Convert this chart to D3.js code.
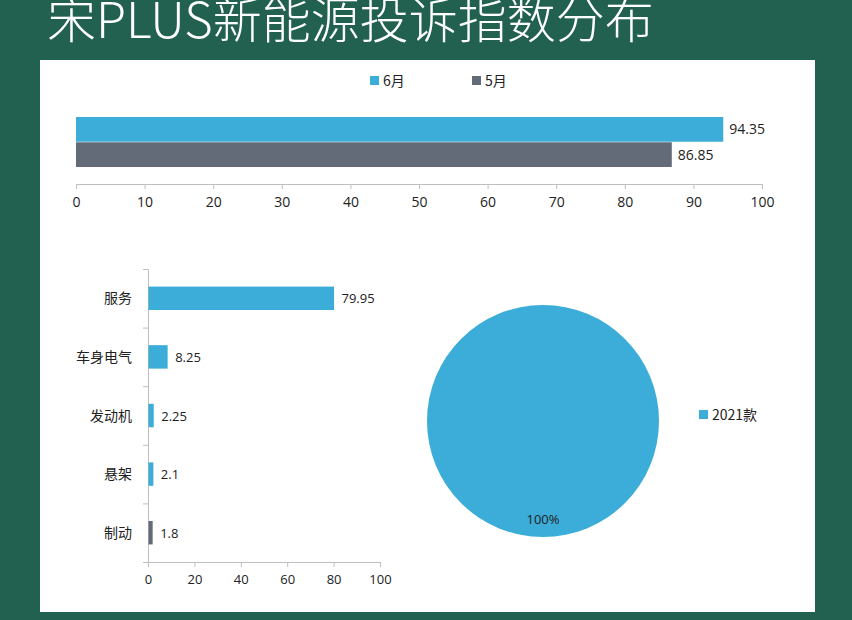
<!DOCTYPE html>
<html lang="zh">
<head>
<meta charset="UTF-8" />
<script src="https://d3js.org/d3.v7.min.js"></script>
<style>
  body { margin: 0; background: #21604f; }
  svg { display: block; font-family: "Noto Sans CJK SC", "Open Sans", sans-serif; }
</style>
</head>
<body>
<svg width="852" height="620"></svg>
<script>
const months = ["6月", "5月"];
const monthValues = [94.35, 86.85];
const categories = ["服务", "车身电气", "发动机", "悬架", "制动"];
const categoryValues = [79.95, 8.25, 2.25, 2.1, 1.8];
const pieLabels = ["2021款"];
const pieValues = [100];

const blue = "#3badd8", gray = "#646b78", axisCol = "#bfbfbf", txt = "#222";
const svg = d3.select("svg");

svg.append("rect").attr("width", 852).attr("height", 620).attr("fill", "#22604f");
svg.append("text").attr("x", 47).attr("y", 38).attr("fill", "#fff")
  .attr("font-size", 49).attr("font-weight", 300).text("宋PLUS新能源投诉指数分布");
svg.append("rect").attr("x", 40).attr("y", 60).attr("width", 775).attr("height", 552).attr("fill", "#fff");

// top chart
const x1 = d3.scaleLinear().domain([0, 100]).range([76, 762]);
const y1 = d3.scaleBand().domain(months).range([117, 167]).paddingInner(0.02);
const col1 = d3.scaleOrdinal().domain(months).range([blue, gray]);
svg.append("g").attr("transform", "translate(0,184)")
  .call(d3.axisBottom(x1).ticks(10).tickSize(5).tickPadding(8))
  .call(g => { g.select(".domain").attr("stroke", axisCol); g.selectAll("line").attr("stroke", axisCol);
    g.selectAll("text").attr("font-size", 14).attr("fill", txt).attr("font-family", "Open Sans"); });
svg.selectAll(".b1").data(months).join("rect")
  .attr("x", x1(0)).attr("y", d => y1(d)).attr("height", y1.bandwidth())
  .attr("width", (d, i) => x1(monthValues[i]) - x1(0)).attr("fill", d => col1(d));
svg.selectAll(".l1").data(months).join("text")
  .attr("x", (d, i) => x1(monthValues[i]) + 6).attr("y", d => y1(d) + y1.bandwidth() / 2 + 5)
  .attr("font-size", 14).attr("fill", txt).attr("font-family", "Open Sans").text((d, i) => monthValues[i]);
const leg = svg.selectAll(".lg").data(months).join("g").attr("transform", (d, i) => `translate(${370 + i * 102},74)`);
leg.append("rect").attr("width", 9).attr("height", 9).attr("y", 2).attr("fill", d => col1(d));
leg.append("text").attr("x", 13).attr("y", 12).attr("font-size", 14).attr("fill", txt).text(d => d);

// bottom bar chart
const x2 = d3.scaleLinear().domain([0, 100]).range([148, 380]);
const y2 = d3.scaleBand().domain(categories).range([269, 562]).paddingInner(0.6).paddingOuter(0.3);
svg.append("g").attr("transform", "translate(0,562)")
  .call(d3.axisBottom(x2).ticks(5).tickSize(5).tickPadding(8))
  .call(g => { g.select(".domain").attr("stroke", axisCol); g.selectAll("line").attr("stroke", axisCol);
    g.selectAll("text").attr("font-size", 13).attr("fill", txt).attr("font-family", "Open Sans"); });
const yAx = d3.axisLeft(d3.scaleLinear().domain([0, 5]).range([562, 269])).ticks(5).tickSize(5).tickFormat("");
svg.append("g").attr("transform", "translate(148,0)").call(yAx)
  .call(g => { g.select(".domain").attr("stroke", axisCol); g.selectAll("line").attr("stroke", axisCol); });
svg.selectAll(".b2").data(categories).join("rect")
  .attr("x", x2(0) + 0.5).attr("y", d => y2(d)).attr("height", y2.bandwidth())
  .attr("width", (d, i) => x2(categoryValues[i]) - x2(0))
  .attr("fill", (d, i) => i === categories.length - 1 ? gray : blue);
svg.selectAll(".l2").data(categories).join("text")
  .attr("x", (d, i) => x2(categoryValues[i]) + 8).attr("y", d => y2(d) + y2.bandwidth() / 2 + 5)
  .attr("font-size", 13).attr("fill", txt).attr("font-family", "Open Sans").text((d, i) => categoryValues[i]);
svg.selectAll(".c2").data(categories).join("text")
  .attr("x", 132).attr("y", d => y2(d) + y2.bandwidth() / 2 + 5).attr("text-anchor", "end")
  .attr("font-size", 14).attr("fill", txt).text(d => d);

// pie
const pie = d3.pie().value(d => d).sort(null)(pieValues);
const arc = d3.arc().innerRadius(0).outerRadius(116);
const pg = svg.append("g").attr("transform", "translate(543,421)");
pg.selectAll("path").data(pie).join("path").attr("d", arc).attr("fill", blue);
pg.selectAll("text").data(pie).join("text").attr("x", 0).attr("y", 103).attr("text-anchor", "middle")
  .attr("font-size", 13).attr("fill", txt).attr("font-family", "Open Sans").text(d => d.data + "%");
const pl = svg.selectAll(".pl").data(pieLabels).join("g").attr("transform", "translate(699,408)");
pl.append("rect").attr("width", 9).attr("height", 9).attr("y", 2).attr("fill", blue);
pl.append("text").attr("x", 13).attr("y", 12).attr("font-size", 14).attr("fill", txt).text(d => d);
</script>
</body>
</html>
